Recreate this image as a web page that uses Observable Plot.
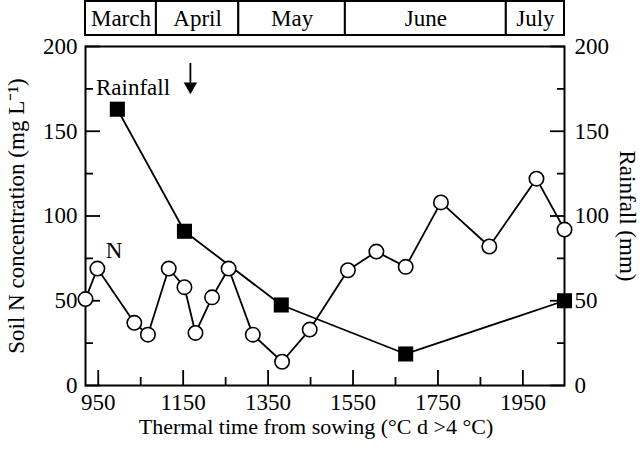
<!DOCTYPE html>
<html>
<head>
<meta charset="utf-8">
<script src="https://cdn.jsdelivr.net/npm/d3@7"></script>
<script src="https://cdn.jsdelivr.net/npm/@observablehq/plot@0.6"></script>
<style>
  html, body { margin: 0; padding: 0; background: #fff; }
  #chart svg { display: block; }
</style>
</head>
<body>
<div id="chart"></div>
<script>
// ---- Data ----
const nTime = [920, 948, 1035, 1067, 1116, 1153, 1179, 1218, 1257, 1314, 1383, 1448, 1538, 1605, 1674, 1757, 1871, 1982, 2048];
const nConc = [51, 69, 37, 30, 69, 58, 31, 52, 69, 30, 14, 33, 68, 79, 70, 108, 82, 122, 92];

const rainTime = [995, 1153, 1381, 1674, 2048];
const rainMm = [163, 91, 47.5, 18.6, 50];

const months = ["March", "April", "May", "June", "July"];
const monthStart = [920, 1087, 1281, 1532, 1911];
const monthEnd = [1087, 1281, 1532, 1911, 2048];

const xDomain = [920, 2048];
const yDomain = [0, 200];
const xMajorTicks = [950, 1150, 1350, 1550, 1750, 1950];
const xMinorTicks = [1050, 1250, 1450, 1650, 1850];
const yMajorTicks = [0, 50, 100, 150, 200];
const yMinorTicks = [25, 75, 125, 175];

const xTitle = "Thermal time from sowing (°C d >4 °C)";
const yTitleLeft = "Soil N concentration (mg L⁻¹)";
const yTitleRight = "Rainfall (mm)";

const annotLabels = ["Rainfall", "N"];
const annotX = [1032, 987];
const annotY = [176, 79.4];

const arrowX = [1167];
const arrowTop = [190];
const arrowHead = [176.4];

// ---- Build tables ----
const nData = nTime.map((t, i) => ({t, v: nConc[i]}));
const rainData = rainTime.map((t, i) => ({t, v: rainMm[i]}));
const monthData = months.map((m, i) => ({m, a: monthStart[i], b: monthEnd[i]}));
const annotData = annotLabels.map((s, i) => ({s, x: annotX[i], y: annotY[i]}));
const arrowData = arrowX.map((x, i) => ({x, y1: arrowTop[i], y2: arrowHead[i]}));

const font = "'Liberation Serif', 'Times New Roman', serif";
const FS = 23;
const ML = 85, MR = 76;
const fmt = d => String(d);

const strip = Plot.plot({
  width: 640, height: 36,
  marginLeft: ML, marginRight: MR, marginTop: 1, marginBottom: 1,
  x: {domain: xDomain, axis: null},
  y: {domain: [0, 1], axis: null},
  style: {fontFamily: font, fontSize: FS + "px", background: "white", color: "black", overflow: "visible"},
  marks: [
    Plot.rect(monthData, {x1: "a", x2: "b", y1: 0, y2: 1, fill: "white", stroke: "black", strokeWidth: 2}),
    Plot.text(monthData, {x: d => (d.a + d.b) / 2, y: 0.5, text: "m", fill: "black", fontSize: FS})
  ]
});

const main = Plot.plot({
  width: 640, height: 414,
  marginLeft: ML, marginRight: MR, marginTop: 10, marginBottom: 65,
  x: {domain: xDomain},
  y: {domain: yDomain},
  style: {fontFamily: font, fontSize: FS + "px", background: "white", color: "black", overflow: "visible"},
  marks: [
    // tick labels
    Plot.axisX(xMajorTicks, {tickSize: 0, tickPadding: 8, label: null, fontSize: FS, tickFormat: fmt}),
    Plot.axisY(yMajorTicks, {anchor: "left", tickSize: 0, tickPadding: 8, label: null, fontSize: FS, tickFormat: fmt}),
    Plot.axisY(yMajorTicks, {anchor: "right", tickSize: 0, tickPadding: 10, label: null, fontSize: FS, tickFormat: fmt}),
    // inward ticks
    Plot.axisX(xMajorTicks, {tickSize: -15, fill: "none", label: null, strokeWidth: 1.8}),
    Plot.axisX(xMinorTicks, {tickSize: -8, fill: "none", label: null, strokeWidth: 1.8}),
    Plot.axisY(yMajorTicks, {anchor: "left", tickSize: -15, fill: "none", label: null, strokeWidth: 1.8}),
    Plot.axisY(yMinorTicks, {anchor: "left", tickSize: -8, fill: "none", label: null, strokeWidth: 1.8}),
    Plot.axisY(yMajorTicks, {anchor: "right", tickSize: -15, fill: "none", label: null, strokeWidth: 1.8}),
    Plot.axisY(yMinorTicks, {anchor: "right", tickSize: -8, fill: "none", label: null, strokeWidth: 1.8}),
    Plot.frame({stroke: "black", strokeWidth: 2}),
    // axis titles
    Plot.text([xTitle], {frameAnchor: "bottom", dx: -9, dy: 41, textAnchor: "middle", lineAnchor: "middle", fontSize: 22, fill: "black"}),
    Plot.text([yTitleLeft], {frameAnchor: "left", rotate: -90, dx: -69, textAnchor: "middle", lineAnchor: "middle", fontSize: FS, fill: "black"}),
    Plot.text([yTitleRight], {frameAnchor: "right", rotate: 90, dx: 63, textAnchor: "middle", lineAnchor: "middle", fontSize: FS, fill: "black"}),
    // rainfall series
    Plot.line(rainData, {x: "t", y: "v", stroke: "black", strokeWidth: 1.8}),
    Plot.dot(rainData, {x: "t", y: "v", symbol: "square", r: 8.5, fill: "black", stroke: "none"}),
    // soil N series
    Plot.line(nData, {x: "t", y: "v", stroke: "black", strokeWidth: 1.8}),
    Plot.dot(nData, {x: "t", y: "v", r: 7.2, fill: "white", stroke: "black", strokeWidth: 1.6}),
    // annotations
    Plot.text(annotData, {x: "x", y: "y", text: "s", fontSize: FS, fill: "black"}),
    Plot.ruleX(arrowData, {x: "x", y1: "y1", y2: "y2", stroke: "black", strokeWidth: 1.8}),
    Plot.dot(arrowData, {x: "x", y: "y2", symbol: "triangle", rotate: 180, r: 5, fill: "black", stroke: "none"})
  ]
});

const chart = document.getElementById("chart");
chart.appendChild(strip);
chart.appendChild(main);
</script>
</body>
</html>
